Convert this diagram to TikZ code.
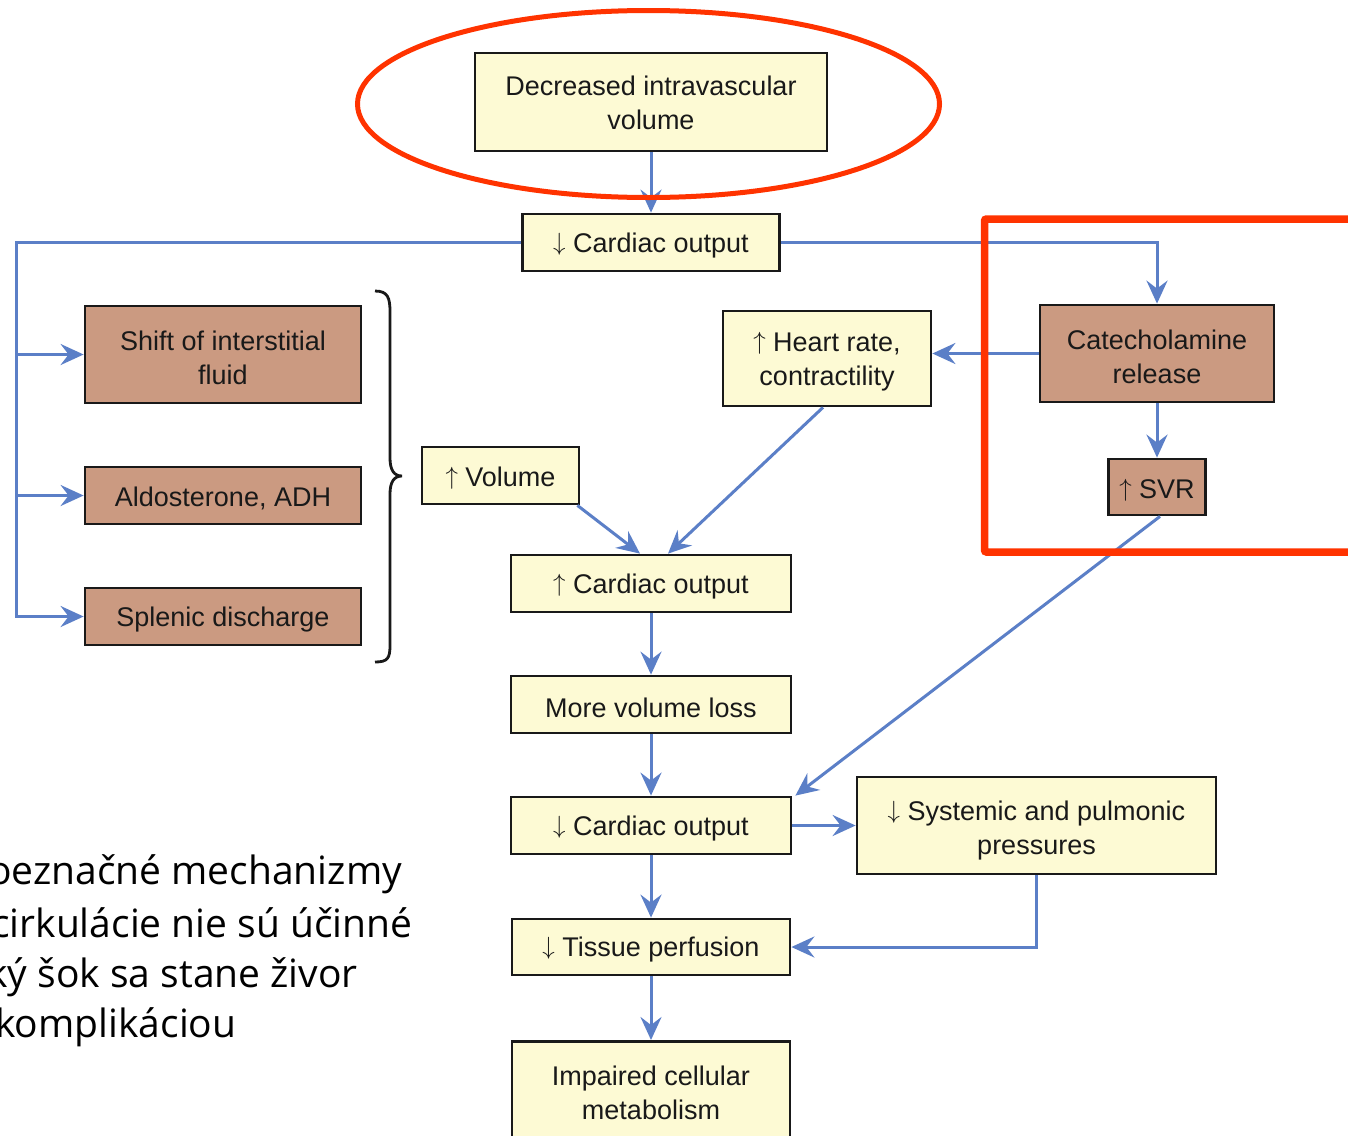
\documentclass[tikz,border=0pt]{standalone}
\usepackage{fontspec}
\setmainfont{Liberation Sans}
\newfontfamily\skfont{Open Sans}
\usetikzlibrary{arrows.meta}
\definecolor{flowblue}{RGB}{91,127,199}
\definecolor{boxyellow}{RGB}{253,250,212}
\definecolor{boxbrown}{RGB}{203,154,129}
\definecolor{markred}{RGB}{255,51,0}
\newcommand\myda{\raisebox{2pt}{\fontsize{24}{24}\selectfont$\downarrow$}}
\newcommand\myua{\raisebox{2pt}{\fontsize{24}{24}\selectfont$\uparrow$}}
\begin{document}
\begin{tikzpicture}[x=1pt,y=-1pt,
 box/.style={draw=black!90, line width=2.8pt, inner sep=0pt},
 ybox/.style={box, fill=boxyellow},
 bbox/.style={box, fill=boxbrown},
 txt/.style={inner sep=0pt, align=center, yshift=-3pt, font=\fontsize{27}{34}\selectfont, text=black!90},
 flow/.style={draw=flowblue, line width=3pt, -{Stealth[length=23pt,width=21pt,inset=8pt]}},
 sktext/.style={anchor=base west, inner sep=0pt, font=\skfont\fontsize{39}{51}\selectfont}
]
\clip (0,0) rectangle (1348,1135);
\fill[white] (0,0) rectangle (1348,1135);

% Slovak text (partly cut at the left edge)
\node[sktext] (s1) at (-12,884) {oeznačné mechanizmy};
\node[sktext] (s2) at (-9,937) {cirkulácie nie sú účinné};
\node[sktext] (s3) at (-13,987) {ký šok sa stane živor};
\node[sktext] (s4) at (-5,1037) {komplikáciou};

% boxes
\node[ybox, minimum width=352pt, minimum height=98pt, label={[txt, yshift=2pt]center:{Decreased intravascular\\volume}}] (dec) at (651,102) {};
\node[ybox, minimum width=257pt, minimum height=57pt, label={[txt]center:{\myda\ Cardiac output}}] (co1) at (651,242.5) {};
\node[bbox, minimum width=234pt, minimum height=97pt, label={[txt]center:{Catecholamine\\release}}] (cat) at (1157,353.5) {};
\node[bbox, minimum width=97pt, minimum height=56pt, label={[txt]center:{\myua\ SVR}}] (svr) at (1157,487) {};
\node[ybox, minimum width=208pt, minimum height=95pt, label={[txt]center:{\myua\ Heart rate,\\contractility}}] (hr) at (827,358.5) {};
\node[bbox, minimum width=276pt, minimum height=97pt, label={[txt]center:{Shift of interstitial\\fluid}}] (shift) at (223,354.5) {};
\node[bbox, minimum width=276pt, minimum height=57pt, label={[txt]center:{Aldosterone, ADH}}] (ald) at (223,495.5) {};
\node[bbox, minimum width=276pt, minimum height=57pt, label={[txt]center:{Splenic discharge}}] (splen) at (223,616.5) {};
\node[ybox, minimum width=157pt, minimum height=57pt, label={[txt]center:{\myua\ Volume}}] (vol) at (500.5,475.5) {};
\node[ybox, minimum width=280pt, minimum height=57pt, label={[txt]center:{\myua\ Cardiac output}}] (co2) at (651,583.5) {};
\node[ybox, minimum width=280pt, minimum height=57pt, label={[txt]center:{More volume loss}}] (mvl) at (651,704.5) {};
\node[ybox, minimum width=280pt, minimum height=57pt, label={[txt]center:{\myda\ Cardiac output}}] (co3) at (651,825.5) {};
\node[ybox, minimum width=359pt, minimum height=97pt, label={[txt, yshift=-2pt]center:{\myda\ Systemic and pulmonic\\pressures}}] (sys) at (1036.5,825.5) {};
\node[ybox, minimum width=278pt, minimum height=56pt, label={[txt]center:{\myda\ Tissue perfusion}}] (tp) at (651,947) {};
\node[ybox, minimum width=278pt, minimum height=106pt, anchor=north, label={[txt, yshift=4.5pt]center:{Impaired cellular\\metabolism}}] (imp) at (651,1040) {};

% brace
\draw[black!90, line width=2.8pt] (375,291) .. controls (388,291) and (390,298) .. (390,312) -- (390,458) .. controls (390,470) and (394,476) .. (402,476) .. controls (394,476) and (390,482) .. (390,494) -- (390,645) .. controls (390,658) and (388,662) .. (375,662);

% connectors
\coordinate (lb) at (16,242.5);
\draw[flow] (dec.south) -- (co1.north);
\draw[flow] (co1.west) -- (lb) |- (splen.west);
\draw[flow] (lb |- shift.west) -- (shift.west);
\draw[flow] (lb |- ald.west) -- (ald.west);
\draw[flow] (co1.east) -| (cat.north);
\draw[flow] (cat.west) -- (cat.west -| hr.east);
\draw[flow] (cat.south) -- (svr.north);
\draw[flow] ([xshift=-4pt]hr.south) -- ([xshift=17pt]co2.north);
\draw[flow] ([xshift=-3pt]vol.south east) -- ([xshift=-11pt]co2.north);
\draw[flow] (co2.south) -- (mvl.north);
\draw[flow] (mvl.south) -- (co3.north);
\draw[flow] ([xshift=3pt]svr.south) -- ([xshift=3pt]co3.north east);
\draw[flow] (co3.east) -- (sys.west);
\draw[flow] (co3.south) -- (tp.north);
\draw[flow] (sys.south) |- (tp.east);
\draw[flow] (tp.south) -- (imp.north);

% red highlights
\draw[markred, line width=5pt] (648.5,104) ellipse [x radius=291pt, y radius=93.5pt];
\draw[markred, line width=7.5pt, rounded corners=2pt] (1370,219) -- (984.5,219) -- (984.5,552) -- (1370,552);
\end{tikzpicture}
\end{document}
